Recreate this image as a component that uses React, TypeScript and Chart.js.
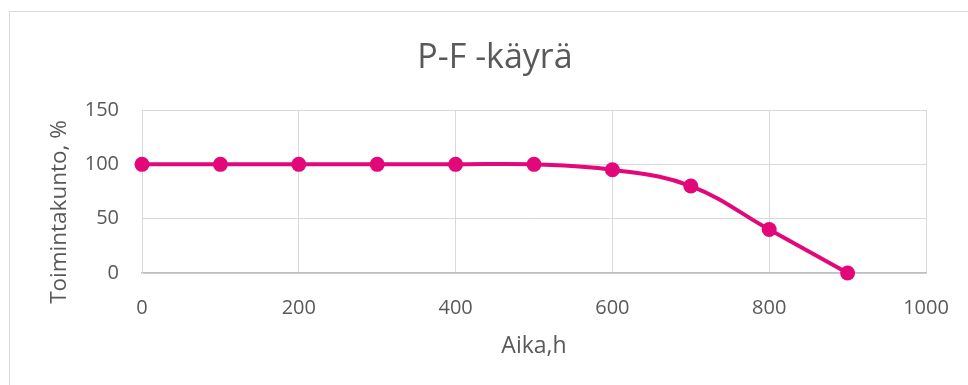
import React, { useEffect, useRef } from "react";
import { Chart, registerables } from "chart.js";

Chart.register(...registerables);

const hours = [0, 100, 200, 300, 400, 500, 600, 700, 800, 900];
const condition = [100, 100, 100, 100, 100, 100, 95, 80, 40, 0];
const chartTitle = "P-F -käyrä";
const xTitle = "Aika,h";
const yTitle = "Toimintakunto, %";

const FONT = "'Open Sans', sans-serif";
const TEXT = "#595959";
const GRID = "#d9d9d9";
const LINE = "#E2087A";

const titlesPlugin = {
  id: "customTitles",
  afterDraw(chart: any) {
    const ctx = chart.ctx as CanvasRenderingContext2D;
    ctx.save();
    ctx.fillStyle = TEXT;
    ctx.textAlign = "center";
    ctx.textBaseline = "middle";
    ctx.font = `34px ${FONT}`;
    ctx.fillText(chartTitle, 495, 58);
    ctx.translate(60, 212);
    ctx.rotate(-Math.PI / 2);
    ctx.font = `22.5px ${FONT}`;
    ctx.fillText(yTitle, 0, 0);
    ctx.restore();
  },
};

export default function App() {
  const ref = useRef<HTMLCanvasElement | null>(null);
  useEffect(() => {
    if (!ref.current) return;
    const chart = new Chart(ref.current, {
      type: "line",
      data: {
        datasets: [
          {
            data: hours.map((h, i) => ({ x: h, y: condition[i] })),
            borderColor: LINE,
            backgroundColor: LINE,
            borderWidth: 4,
            pointRadius: 7.5,
            pointBorderWidth: 0,
            pointBackgroundColor: LINE,
            tension: 0.4,
            clip: false as any,
          },
        ],
      },
      options: {
        animation: false,
        responsive: false,
        devicePixelRatio: 1,
        layout: { padding: { left: 0, right: 42, top: 110, bottom: 0 } },
        plugins: {
          legend: { display: false },
          tooltip: { enabled: false },
          title: { display: false },
        },
        scales: {
          x: {
            type: "linear",
            min: 0,
            max: 1000,
            ticks: {
              stepSize: 200,
              color: TEXT,
              font: { family: FONT, size: 20 },
              padding: 23,
              maxRotation: 0,
              callback: (v: any) => String(v),
            },
            grid: { color: GRID, drawTicks: false, lineWidth: 1 },
            border: { color: "#bfbfbf", width: 1.5 },
            title: {
              display: true,
              text: xTitle,
              color: TEXT,
              font: { family: FONT, size: 23, lineHeight: 1.2 },
              padding: { top: 0, bottom: 25 },
            },
            afterFit: (s: any) => {
              s.height = 112;
              s.paddingRight = 0;
              s.paddingLeft = 0;
            },
          },
          y: {
            type: "linear",
            min: 0,
            max: 150,
            ticks: {
              stepSize: 50,
              color: TEXT,
              font: { family: FONT, size: 20 },
              padding: 23,
              callback: (v: any) => String(v),
            },
            grid: { color: GRID, drawTicks: false, lineWidth: 1 },
            border: { color: GRID, width: 1 },
            title: { display: false },
            afterFit: (s: any) => {
              s.width = 142;
              s.paddingTop = 0;
              s.paddingBottom = 0;
            },
          },
        },
      },
      plugins: [titlesPlugin],
    });
    return () => chart.destroy();
  }, []);

  return (
    <div style={{ position: "fixed", left: 0, top: 0, width: 968, height: 385, background: "#fff", overflow: "hidden" }}>
      <div
        style={{
          position: "absolute",
          left: 9,
          top: 11,
          width: 1000,
          height: 500,
          border: "1px solid #d9d9d9",
        }}
      />
      <canvas ref={ref} width={968} height={385} style={{ position: "absolute", left: 0, top: 0, width: 968, height: 385 }} />
    </div>
  );
}
